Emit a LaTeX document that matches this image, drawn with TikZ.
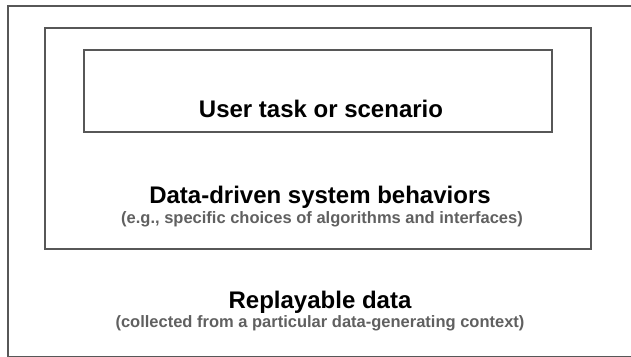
\documentclass[tikz,border=0pt]{standalone}
\usepackage{fontspec}
\setmainfont{Liberation Sans}
\usepackage{tikz}
\usetikzlibrary{positioning}
\definecolor{boxgray}{HTML}{575757}
\definecolor{notegray}{HTML}{606060}

\begin{document}
\begin{tikzpicture}[x=1pt, y=-1pt,
    box/.style = {draw = boxgray, line width = 2pt, inner sep = 0pt},
    head/.style = {anchor = base, font = \fontsize{24}{28}\selectfont\bfseries},
    note/.style = {anchor = base, text = notegray, font = \fontsize{16.5}{20}\selectfont\bfseries}]
                \useasboundingbox (0,0) rectangle (631,356);
                \node [box, minimum width=660pt, minimum height=351pt] at (338,181.5) (data) {};
                \node [box, minimum width=546pt, minimum height=221pt] at (318,138.5) (sys) {};
                \node [box, minimum width=468pt, minimum height=82pt] at (318,91) (task) {};
                \node [head] at (321,117) (taskLbl) {User task or scenario};
                \node [head] at (320,203) (sysLbl) {Data-driven system behaviors};
                \node [note] at (322,223) (sysNote) {(e.g., specific choices of algorithms and interfaces)};
                \node [head] at (320,308) (dataLbl) {Replayable data};
                \node [note] at (320,327) (dataNote) {(collected from a particular data-generating context)};
            \end{tikzpicture}
\end{document}
